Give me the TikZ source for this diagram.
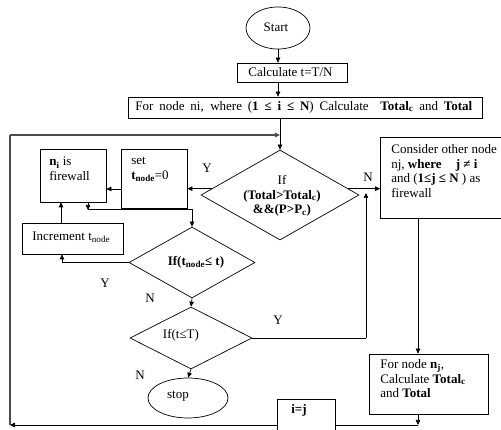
\documentclass[tikz,border=0pt]{standalone}
\usepackage{fontspec}
\setmainfont{Liberation Serif}
\usetikzlibrary{arrows.meta,shapes.geometric,calc}

\newcommand{\tnode}{\textbf{t}\textsubscript{\textbf{node}}}

\begin{document}
\begin{tikzpicture}[x=1pt,y=-1pt,
  font=\fontsize{13}{14.8}\selectfont,
  line width=0.7pt,
  arr/.style={-{Triangle[length=5pt,width=4.5pt]}},
  procbox/.style={draw, rectangle, inner sep=0pt},
  decision/.style={draw, diamond, inner sep=0pt},
  term/.style={draw, ellipse, inner sep=0pt},
  lbl/.style={inner sep=0pt}]
\useasboundingbox (0,0) rectangle (501,430);

% terminals
\node[term, minimum width=64, minimum height=42] (start) at (278,28) {};
\node[lbl] at (276,27) {Start};
\node[term, minimum width=80, minimum height=40] (stop) at (188,398) {};
\node[lbl] at (178,396) {stop};

% process boxes
\node[procbox, minimum width=110, minimum height=19] (calc) at (292,72.5) {};
\node[lbl, anchor=west] at (248,72) {Calculate t=T/N};
\node[procbox, minimum width=354, minimum height=21] (fornode) at (305,107.5) {};
\node[lbl, anchor=west] at (135,107)
  {\makebox[337pt][s]{For node ni, where (\textbf{1 ≤ i ≤ N}) Calculate \ \textbf{Total\textsubscript{c}} and \textbf{Total}}};
\node[procbox, minimum width=66, minimum height=53] (ni) at (73,175.5) {};
\node[lbl, anchor=north west, align=left] at (49,157) {\textbf{n\textsubscript{i}} is\\firewall};
\node[procbox, minimum width=66, minimum height=59] (set) at (154,178.5) {};
\node[lbl, anchor=north west, align=left] at (131,157) {set\\\tnode=0};
\node[procbox, minimum width=101, minimum height=31] (incr) at (72.5,238.5) {};
\node[lbl, anchor=west] at (32,237) {Increment t\textsubscript{node}};
\node[procbox, minimum width=121, minimum height=81] (cons) at (441,177.5) {};
\node[lbl, anchor=north west, align=left] at (391,144) {Consider other node\\nj, \textbf{where} \hspace{11pt}\textbf{j ≠ i}\\and (\textbf{1≤j ≤ N} ) as\\firewall};
\node[procbox, minimum width=119, minimum height=60] (fornj) at (428.5,384) {};
\node[lbl, anchor=north west, align=left] at (380,359) {For node \textbf{n\textsubscript{j}},\\Calculate \textbf{Total\textsubscript{c}}\\and \textbf{Total}};
\node[procbox, minimum width=58, minimum height=40] (ij) at (306,419) {};
\node[lbl] at (299,410) {\textbf{i=j}};

% decisions
\node[decision, minimum width=158, minimum height=90] (d1) at (280,195) {};
\node[lbl, align=center] at (282,196) {If\\\textbf{(Total>Total\textsubscript{c})}\\\textbf{\&\&(P>P\textsubscript{c})}};
\node[decision, minimum width=126, minimum height=71] (d2) at (192,262.5) {};
\node[lbl] at (196,262) {\textbf{If(\tnode≤ t)}};
\node[decision, minimum width=122, minimum height=62] (d3) at (191,338) {};
\node[lbl] at (181,335) {If(t≤T)};

% junction points
\coordinate (merge) at (280,135);
\coordinate (yjoin) at (366,189);
\coordinate (yup) at (366,193);
\coordinate (bot) at (418,425);
\coordinate (lft) at (10,425);
\coordinate (topl) at (10,135);
\coordinate (d1w) at ($(d1.west)!0.14!(d1.north)$);
\coordinate (d1e) at ($(d1.east)!0.14!(d1.north)$);
\coordinate (row189) at (0,189);
\coordinate (niout) at (88,202);
\coordinate (nitap) at (88,210);
\coordinate (lowrow) at (88,209.5);
\coordinate (incx) at (62,0);
\coordinate (upx) at (61,0);

% main flow
\draw[arr] (start.south) -- (start.south |- calc.north);
\draw[arr] (start.south |- calc.south) -- (start.south |- fornode.north);
\draw (fornode.south -| merge) -- (merge);
\draw[arr] (merge) -- (d1.north);

% decision 1
\draw[arr] (d1w) -- (d1w -| set.east);
\draw[arr] (d1e) -- (d1e -| cons.west);
\draw[arr] (set.west |- row189) -- (ni.east |- row189);

% timer loop
\draw[arr] (niout) -- (nitap);
\draw[arr] (lowrow) -| (d2.north);
\draw[arr] (d2.west) -| (incr.south -| incx);
\draw[arr] (incr.north -| upx) -- (ni.south -| upx);
\draw[arr] (d2.south) -- (d3.north);
\draw[arr] (d3.south) -- (stop.north);
\draw (d3.east) -- (d3.east -| yjoin);
\draw[arr] (d3.east -| yjoin) -- (yup);

% other node branch
\draw[arr] (cons.south -| bot) -- (fornj.north -| bot);
\draw[arr] (fornj.south -| bot) -- (bot);
\draw (bot) -- (ij.east |- bot);
\draw[arr] (ij.west |- bot) -- (lft);
\draw[line width=1.1pt, draw=black!70] (lft) -- (topl);
\draw[arr, line width=1.1pt, draw=black!70] (topl) -- (merge);

% branch labels
\node[lbl] at (207,168) {Y};
\node[lbl] at (368,177) {N};
\node[lbl] at (105,283) {Y};
\node[lbl] at (150,298) {N};
\node[lbl] at (278,320) {Y};
\node[lbl] at (140,375) {N};
\end{tikzpicture}
\end{document}
